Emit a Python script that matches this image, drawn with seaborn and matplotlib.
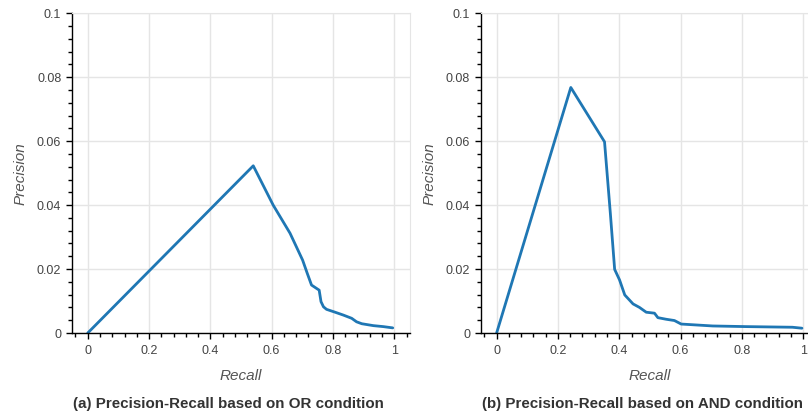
import numpy as np
import pandas as pd
import seaborn as sns
import matplotlib.pyplot as plt

# Precision-recall curve, OR condition
or_recall = [0.0, 0.540, 0.605, 0.660, 0.701, 0.716, 0.730, 0.755, 0.761, 0.769,
             0.779, 0.807, 0.834, 0.861, 0.877, 0.894, 0.932, 0.964, 0.995]
or_precision = [0.0, 0.0523, 0.0400, 0.0312, 0.0228, 0.0187, 0.0150, 0.0134, 0.0098, 0.0082,
                0.0074, 0.0065, 0.0056, 0.0046, 0.0035, 0.0029, 0.0023, 0.0020, 0.0016]

# Precision-recall curve, AND condition
and_recall = [0.0, 0.242, 0.352, 0.371, 0.385, 0.401, 0.418, 0.445, 0.466, 0.488,
              0.515, 0.526, 0.553, 0.580, 0.602, 0.705, 0.814, 0.965, 0.996]
and_precision = [0.0, 0.0768, 0.0598, 0.0374, 0.0199, 0.0166, 0.0119, 0.0091, 0.0080, 0.0065,
                 0.0062, 0.0048, 0.0043, 0.0039, 0.0028, 0.0022, 0.0020, 0.0018, 0.0015]

x_ticks = [0, 0.2, 0.4, 0.6, 0.8, 1.0]
x_labels = ['0', '0.2', '0.4', '0.6', '0.8', '1']
y_ticks = [0, 0.02, 0.04, 0.06, 0.08, 0.1]
y_labels = ['0', '0.02', '0.04', '0.06', '0.08', '0.1']

captions = ['(a) Precision-Recall based on OR condition',
            '(b) Precision-Recall based on AND condition']

sns.set_style('white')
plt.rcParams['font.family'] = ['Liberation Sans', 'DejaVu Sans']

fig = plt.figure(figsize=(8.08, 4.12), dpi=100)
ax_or = fig.add_axes([72.4 / 808, 79 / 412, 337.2 / 808, 319.7 / 412])
ax_and = fig.add_axes([481.3 / 808, 79 / 412, 337.2 / 808, 319.7 / 412])

curves = [(or_recall, or_precision), (and_recall, and_precision)]
for ax, (rec, prec) in zip([ax_or, ax_and], curves):
    df = pd.DataFrame({'Recall': rec, 'Precision': prec})
    sns.lineplot(data=df, x='Recall', y='Precision', ax=ax, color='#1f77b4',
                 linewidth=2, estimator=None, sort=False)
    ax.set_xlim(-0.05, 1.05)
    ax.set_ylim(0, 0.1)
    ax.set_xticks(x_ticks)
    ax.set_xticklabels(x_labels)
    ax.set_yticks(y_ticks)
    ax.set_yticklabels(y_labels)
    ax.set_xticks(np.arange(-0.04, 1.05, 0.04), minor=True)
    ax.set_yticks(np.arange(0, 0.1001, 0.004), minor=True)
    ax.grid(True, which='major', color='#e5e5e5', linewidth=1)
    ax.tick_params(which='major', direction='out', length=4.5, width=1, color='black',
                   labelsize=9, labelcolor='#444444', pad=4.5)
    ax.tick_params(axis='y', which='major', pad=3.5)
    ax.tick_params(which='minor', direction='out', length=3, width=1, color='black')
    ax.tick_params(axis='x', bottom=True, which='both')
    ax.tick_params(axis='y', left=True, which='both')
    for side in ['top', 'right']:
        ax.spines[side].set_color('#e5e5e5')
    for side in ['left', 'bottom']:
        ax.spines[side].set_color('black')
        ax.spines[side].set_linewidth(1)
    ax.set_xlabel('Recall', fontsize=11, style='italic', color='#555555', labelpad=8)
    ax.set_ylabel('Precision', fontsize=11, style='italic', color='#555555', labelpad=7)

fig.text(228 / 808, 1 - 404 / 412, captions[0], ha='center', va='center',
         fontsize=10.9, fontweight='bold', color='#333333')
fig.text(642 / 808, 1 - 404 / 412, captions[1], ha='center', va='center',
         fontsize=10.9, fontweight='bold', color='#333333')

fig.savefig('out.png', dpi=100)
